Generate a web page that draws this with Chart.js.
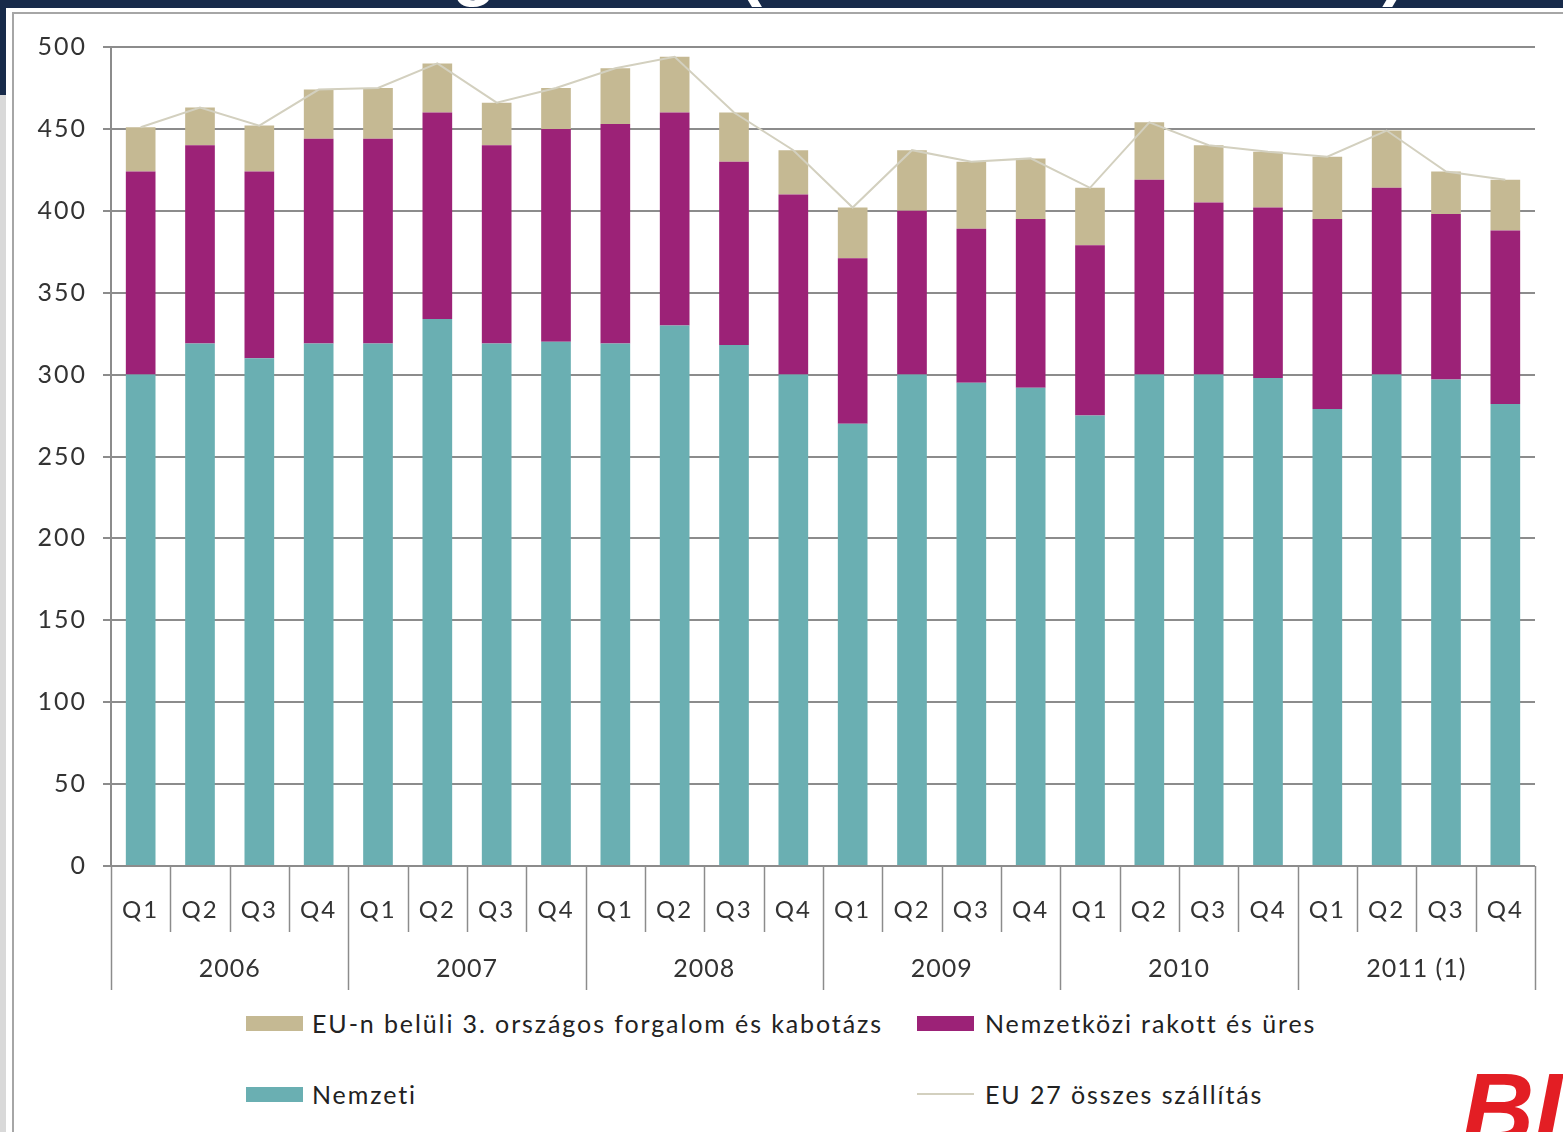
<!DOCTYPE html>
<html>
<head>
<meta charset="utf-8">
<script src="https://cdn.jsdelivr.net/npm/chart.js@4.4.1/dist/chart.umd.min.js"></script>
<style>
  html, body { margin: 0; padding: 0; background: #fff; overflow: hidden; }
  body { width: 1563px; height: 1132px; position: relative; font-family: Lato, "Open Sans", sans-serif; }
  #band { position: absolute; left: 0; top: 0; width: 1563px; height: 8px; background: #172a4a; overflow: hidden; }
  #band span { position: absolute; top: -63px; font: bold 72px "Liberation Sans", Arial, sans-serif; line-height: 60px; color: #fff; white-space: nowrap; }
  #strip1 { position: absolute; left: 0; top: 0; width: 6px; height: 95px; background: #172a4a; }
  #strip2 { position: absolute; left: 0; top: 95px; width: 6px; height: 1037px; background: #d9d9d9; }
  #frameL { position: absolute; left: 12px; top: 12px; width: 2px; height: 1120px; background: #a6a6a6; }
  #frameT { position: absolute; left: 12px; top: 12px; width: 1551px; height: 2px; background: #a6a6a6; }
  #wrap { position: absolute; left: 0; top: 0; width: 1563px; height: 1000px; }
  .leg { position: absolute; font-size: 25px; letter-spacing: 1.9px; color: #222; white-space: nowrap; }
  .sw { position: absolute; width: 57px; height: 15px; }
  #logo { position: absolute; left: 1462px; top: 1058px; font: italic bold 100px "Liberation Sans", Arial, sans-serif; line-height: 100px; color: #e31e24; }
</style>
</head>
<body>
<div id="band"><span id="t1">Áruszállítás megoszlása</span><span id="t2" style="left:738px;letter-spacing:2.6px">(milliárd tonnakm)</span></div>
<div id="strip1"></div><div id="strip2"></div>
<div id="frameT"></div><div id="frameL"></div>
<div id="wrap"><canvas id="chart"></canvas></div>

<div class="sw" style="left:246px;top:1016px;background:#c5b993"></div>
<div class="leg" style="left:312px;top:1008px">EU-n belüli 3. országos forgalom és kabotázs</div>
<div class="sw" style="left:917px;top:1016px;background:#9c2277"></div>
<div class="leg" style="left:985px;top:1008px">Nemzetközi rakott és üres</div>
<div class="sw" style="left:246px;top:1087px;background:#6aafb2"></div>
<div class="leg" style="left:312px;top:1079px">Nemzeti</div>
<div class="sw" style="left:917px;top:1093px;height:2px;background:#d3d0bf"></div>
<div class="leg" style="left:985px;top:1079px">EU 27 összes szállítás</div>

<div id="logo">BI</div>

<script>
const quarters = ["Q1","Q2","Q3","Q4","Q1","Q2","Q3","Q4","Q1","Q2","Q3","Q4",
                  "Q1","Q2","Q3","Q4","Q1","Q2","Q3","Q4","Q1","Q2","Q3","Q4"];
const years = ["2006", "2007", "2008", "2009", "2010", "2011 (1)"];

const nemzeti = [300,319,310,319, 319,334,319,320, 319,330,318,300,
                 270,300,295,292, 275,300,300,298, 279,300,297,282];
const nemzetkozi = [124,121,114,125, 125,126,121,130, 134,130,112,110,
                    101,100,94,103, 104,119,105,104, 116,114,101,106];
const kabotazs = [27,23,28,30, 31,30,26,25, 34,34,30,27,
                  31,37,41,37, 35,35,35,34, 38,35,26,31];
const osszes = [451,463,452,474, 475,490,466,475, 487,494,460,437,
                402,437,430,432, 414,454,440,436, 433,449,424,419];

const yTicks = [0, 50, 100, 150, 200, 250, 300, 350, 400, 450, 500];

// place the clipped title so the "g" lands where the reference has it
(function () {
    const c = document.createElement("canvas").getContext("2d");
    c.font = 'bold 72px "Liberation Sans", Arial, sans-serif';
    const pre = c.measureText("Áruszállítás me").width;
    document.getElementById("t1").style.left = (452 - pre) + "px";
})();

const FONT = "Lato, 'Open Sans', sans-serif";

const spacing = {
    id: "spacing",
    beforeDraw(chart) { chart.ctx.letterSpacing = "2px"; },
    afterDraw(chart) { chart.ctx.letterSpacing = "0px"; }
};

const groupAxis = {
    id: "groupAxis",
    afterDraw(chart) {
        const ctx = chart.ctx;
        const area = chart.chartArea;
        const step = (area.right - area.left) / quarters.length;
        ctx.save();
        ctx.strokeStyle = "#8c8c8c";
        ctx.lineWidth = 1.5;
        for (let i = 0; i <= quarters.length; i++) {
            const x = Math.round(area.left + i * step) + 0.5;
            const end = (i % 4 === 0) ? 990 : 932;
            ctx.beginPath();
            ctx.moveTo(x, area.bottom);
            ctx.lineTo(x, end);
            ctx.stroke();
        }
        ctx.fillStyle = "#333";
        ctx.font = "25px " + FONT;
        ctx.letterSpacing = "1px";
        ctx.textAlign = "center";
        ctx.textBaseline = "middle";
        years.forEach((y, i) => {
            const cx = area.left + (i * 4 + 2) * step;
            ctx.fillText(y, cx, 969);
        });
        ctx.restore();
    }
};

new Chart(document.getElementById("chart").getContext("2d"), {
    data: {
        labels: quarters,
        datasets: [
            {
                type: "line",
                label: "EU 27 összes szállítás",
                data: osszes,
                borderColor: "#d3d0bf",
                borderWidth: 2,
                pointRadius: 0,
                tension: 0,
                order: 0
            },
            {
                type: "bar",
                label: "Nemzeti",
                data: nemzeti,
                backgroundColor: "#6aafb2",
                barPercentage: 0.5,
                categoryPercentage: 1.0,
                order: 1
            },
            {
                type: "bar",
                label: "Nemzetközi rakott és üres",
                data: nemzetkozi,
                backgroundColor: "#9c2277",
                barPercentage: 0.5,
                categoryPercentage: 1.0,
                order: 1
            },
            {
                type: "bar",
                label: "EU-n belüli 3. országos forgalom és kabotázs",
                data: kabotazs,
                backgroundColor: "#c5b993",
                barPercentage: 0.5,
                categoryPercentage: 1.0,
                order: 1
            }
        ]
    },
    options: {
        responsive: true,
        maintainAspectRatio: false,
        animation: false,
        layout: { padding: { top: 47, right: 28, left: 0, bottom: 0 } },
        plugins: {
            legend: { display: false },
            tooltip: { enabled: false }
        },
        scales: {
            x: {
                stacked: true,
                grid: { display: false, drawTicks: false },
                border: { display: false },
                ticks: {
                    color: "#333",
                    font: { size: 24, family: FONT },
                    padding: 30,
                    maxRotation: 0,
                    autoSkip: false
                },
                afterFit(scale) { scale.height = 134; }
            },
            y: {
                stacked: true,
                min: 0,
                max: 500,
                afterBuildTicks(scale) { scale.ticks = yTicks.map(v => ({ value: v })); },
                grid: { color: "#8c8c8c", lineWidth: 2, tickLength: 8 },
                border: { display: true, color: "#8c8c8c", width: 2 },
                ticks: {
                    color: "#333",
                    font: { size: 25, family: FONT },
                    padding: 16
                },
                afterFit(scale) { scale.width = 111; }
            }
        }
    },
    plugins: [spacing, groupAxis]
});
</script>
</body>
</html>
